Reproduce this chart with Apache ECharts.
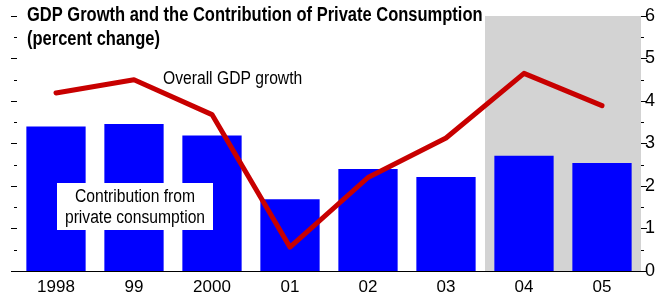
<!DOCTYPE html>
<html>
<head>
<meta charset="utf-8">
<script src="https://cdn.jsdelivr.net/npm/echarts@6/dist/echarts.min.js"></script>
<style>
  html, body { margin: 0; padding: 0; background: #fff; }
  #chart { width: 665px; height: 299px; }
</style>
</head>
<body>
<div id="chart"></div>
<script type="text/javascript">
    // data
    var years = ['1998', '99', '2000', '01', '02', '03', '04', '05'];
    var privateConsumption = [3.40, 3.46, 3.19, 1.69, 2.40, 2.21, 2.71, 2.54];
    var gdpGrowth = [4.19, 4.50, 3.68, 0.56, 2.20, 3.13, 4.65, 3.89];
    var forecastRange = [6, 8]; // shaded part: 04 and 05

    var FONT = '"Liberation Sans", Arial, sans-serif';

    var chart = echarts.init(document.getElementById('chart'));

    var yAxisBase = {
        type: 'value',
        min: 0,
        max: 6,
        interval: 1,
        splitLine: { show: false },
        axisLine: { show: false },
        axisTick: { show: true, length: 6, lineStyle: { color: '#000', width: 1 } },
        minorTick: { show: true, splitNumber: 2, length: 3, lineStyle: { color: '#000', width: 1 } }
    };

    chart.setOption({
        animation: false,
        backgroundColor: '#fff',
        grid: { left: 17, right: 24, top: 16, bottom: 28 },
        xAxis: [{
            type: 'category',
            data: years,
            axisLine: { lineStyle: { color: '#000', width: 1 } },
            axisTick: { show: false },
            axisLabel: { fontFamily: FONT, fontSize: 17, color: '#000', margin: 8 }
        }, {
            type: 'value',
            min: 0,
            max: 8,
            show: false
        }],
        yAxis: [
            Object.assign({}, yAxisBase, { position: 'left', axisLabel: { show: false } }),
            Object.assign({}, yAxisBase, {
                position: 'right',
                axisLabel: { fontFamily: FONT, fontSize: 18, color: '#000', margin: 4 }
            })
        ],
        series: [{
            type: 'line',
            xAxisIndex: 1,
            yAxisIndex: 0,
            data: [],
            silent: true,
            markArea: {
                silent: true,
                itemStyle: { color: '#d3d3d3' },
                data: [[{ xAxis: forecastRange[0] }, { xAxis: forecastRange[1] }]]
            }
        }, {
            name: 'Contribution from private consumption',
            type: 'bar',
            yAxisIndex: 0,
            data: privateConsumption,
            barCategoryGap: '24%',
            itemStyle: { color: '#0000ff' },
            z: 3
        }, {
            name: 'Overall GDP growth',
            type: 'line',
            yAxisIndex: 1,
            data: gdpGrowth,
            symbol: 'none',
            lineStyle: { color: '#c80000', width: 5, cap: 'round', join: 'round' },
            z: 4
        }],
        graphic: [{
            // title, condensed look
            type: 'text',
            x: 27,
            y: 3,
            scaleX: 0.825,
            z: 10,
            style: {
                text: 'GDP Growth and the Contribution of Private Consumption\n(percent change)',
                font: 'bold 20px ' + FONT,
                lineHeight: 24,
                fill: '#000'
            }
        }, {
            type: 'text',
            x: 163,
            y: 70,
            scaleX: 0.87,
            z: 10,
            style: { text: 'Overall GDP growth', font: '18px ' + FONT, fill: '#000' }
        }, {
            type: 'rect',
            z: 10,
            shape: { x: 57, y: 183, width: 156, height: 47 },
            style: { fill: '#fff' }
        }, {
            type: 'text',
            x: 135,
            y: 187,
            scaleX: 0.87,
            z: 11,
            style: {
                text: 'Contribution from\nprivate consumption',
                font: '18px ' + FONT,
                fill: '#000',
                align: 'center',
                lineHeight: 21
            }
        }]
    });
</script>
</body>
</html>
